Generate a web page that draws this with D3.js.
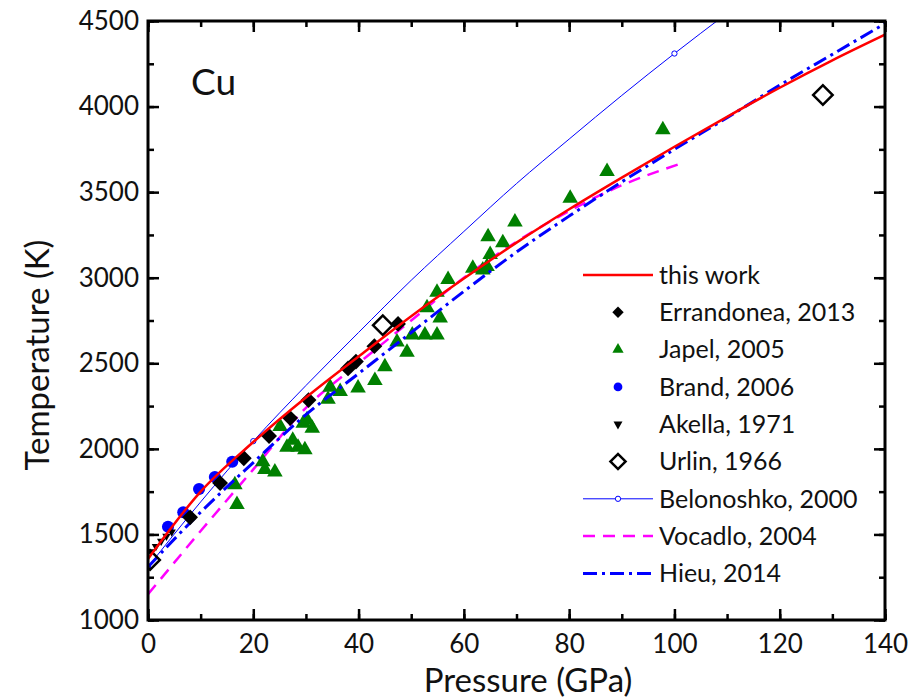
<!DOCTYPE html>
<html>
<head>
<meta charset="utf-8">
<script src="https://cdn.jsdelivr.net/npm/d3@7"></script>
<style>
  body { margin: 0; background: #fff; }
  svg { display: block; font-family: Lato, "Open Sans", sans-serif; }
</style>
</head>
<body>
<svg id="chart" width="918" height="698"></svg>
<script>
// pressure (GPa), temperature (K)
const thisWork = [[0,1357],[10,1750],[20,2040],[30,2300],[40,2540],[50,2775],[60,2995],[70,3205],[80,3400],[90,3585],[100,3765],[110,3940],[120,4110],[130,4270],[140,4420]];
const errandonea = [[8,1600],[13.7,1800],[18.2,1945],[23,2075],[27,2180],[30.5,2285],[38,2470],[39.5,2510],[43,2600],[47.5,2730]];
const japel = [[16.5,1790],[16.9,1675],[21.8,1925],[22.2,1880],[24.1,1865],[25.1,2130],[26.4,2010],[27.5,2050],[28.5,2010],[29.8,1995],[29.5,2150],[31.2,2120],[30.2,2170],[34.2,2290],[34.6,2360],[36.5,2335],[39.9,2355],[43.1,2400],[45,2480],[47.3,2625],[49.2,2565],[50.2,2665],[52.6,2665],[54.9,2665],[55.5,2765],[53,2825],[54.9,2915],[57,2990],[61.7,3055],[63.6,3045],[64.4,3065],[65,3135],[64.6,3240],[67.4,3205],[69.7,3325],[80.2,3465],[87.2,3620],[97.8,3865]];
const brand = [[3.8,1545],[6.7,1630],[9.7,1765],[12.7,1835],[16,1925]];
const akella = [[0.5,1400],[1.5,1430],[2.5,1460],[3.5,1490],[4.5,1515]];
const urlin = [[0.4,1350],[44.6,2722],[128.2,4068]];
const belonoshko = [[0,1310],[10,1690],[20,2045],[30,2370],[40,2680],[50,2985],[60,3270],[70,3550],[80,3810],[90,4065],[100,4310],[110,4545]];
const belonoshkoMarks = [[0,1310],[20,2045],[100,4310]];
const vocadlo = [[0,1150],[10,1520],[20,1880],[30,2240],[40,2500],[50,2750],[60,3000],[70,3210],[80,3390],[90,3540],[102,3675]];
const hieu = [[0,1310],[10,1630],[20,1920],[30,2200],[40,2440],[50,2680],[60,2920],[70,3150],[80,3360],[90,3560],[100,3750],[110,3935],[120,4125],[130,4305],[140,4485]];
const xTicks = [0,20,40,60,80,100,120,140];
const yTicks = [1000,1500,2000,2500,3000,3500,4000,4500];
const legendNames = ["this work","Errandonea, 2013","Japel, 2005","Brand, 2006","Akella, 1971","Urlin, 1966","Belonoshko, 2000","Vocadlo, 2004","Hieu, 2014"];

const svg = d3.select("#chart");
const margin = {left: 148, right: 885, top: 21, bottom: 620};
const x = d3.scaleLinear([0, 140], [margin.left, margin.right]);
const y = d3.scaleLinear([1000, 4500], [margin.bottom, margin.top]);

svg.append("clipPath").attr("id", "clip")
  .append("rect")
  .attr("x", margin.left).attr("y", margin.top)
  .attr("width", margin.right - margin.left).attr("height", margin.bottom - margin.top);

const plot = svg.append("g").attr("clip-path", "url(#clip)");
const line = d3.line().x(d => x(d[0])).y(d => y(d[1])).curve(d3.curveMonotoneX);

function drawLine(data, stroke, width, dash) {
  plot.append("path").datum(data)
    .attr("d", line)
    .attr("fill", "none")
    .attr("stroke", stroke)
    .attr("stroke-width", width)
    .attr("stroke-dasharray", dash || null);
}

// diamonds are squares turned 45 degrees, like the original markers
const sym = {
  square: s => d3.symbol(d3.symbolSquare, s)(),
  triangle: s => d3.symbol(d3.symbolTriangle, s)(),
  circle: s => d3.symbol(d3.symbolCircle, s)()
};

function drawPoints(data, path, attrs, rotate) {
  const g = plot.append("g");
  const p = g.selectAll("path").data(data).join("path")
    .attr("d", path)
    .attr("transform", d => `translate(${x(d[0])},${y(d[1])})` + (rotate ? ` rotate(${rotate})` : ""));
  for (const k in attrs) p.attr(k, attrs[k]);
}

// lines under the markers
drawLine(vocadlo, "#ff00ff", 2.5, "12,8");
drawLine(belonoshko, "#0000ff", 1, null);
drawPoints(belonoshkoMarks, sym.circle(22), {fill: "#fff", stroke: "#0000ff", "stroke-width": 1});

drawPoints(japel, sym.triangle(105), {fill: "#008000"});
drawPoints(brand, sym.circle(115), {fill: "#0000ff"});
drawLine(hieu, "#0000ff", 3, "14,5,3,5");
drawPoints(errandonea, sym.square(125), {fill: "#000"}, 45);
drawPoints(akella, sym.triangle(30), {fill: "#000"}, 180);
drawPoints(urlin, sym.square(190), {fill: "none", stroke: "#000", "stroke-width": 2.5}, 45);
drawLine(thisWork, "#ff0000", 2.5, null);

// axes with inward ticks on all four sides
function frameAxis(axisGen, transform) {
  const g = svg.append("g").attr("transform", transform);
  g.call(axisGen);
  g.selectAll(".tick line").attr("stroke", "#000").attr("stroke-width", 2.5);
  g.select(".domain").remove();
  return g;
}
const xMinor = d3.range(0, 141, 10);
const yMinor = d3.range(1000, 4501, 250);
const fmt = d3.format("d");

frameAxis(d3.axisBottom(x).tickValues(xMinor).tickSize(-6).tickFormat(""), `translate(0,${margin.bottom})`);
frameAxis(d3.axisBottom(x).tickValues(xMinor).tickSize(6).tickFormat(""), `translate(0,${margin.top})`);
frameAxis(d3.axisLeft(y).tickValues(yMinor).tickSize(-6).tickFormat(""), `translate(${margin.left},0)`);
frameAxis(d3.axisLeft(y).tickValues(yMinor).tickSize(6).tickFormat(""), `translate(${margin.right},0)`);

const xb = frameAxis(d3.axisBottom(x).tickValues(xTicks).tickSize(-11).tickPadding(15).tickFormat(fmt), `translate(0,${margin.bottom})`);
xb.selectAll(".tick text").attr("font-size", 26).attr("font-family", "Lato").attr("fill", "#111");
frameAxis(d3.axisBottom(x).tickValues(xTicks).tickSize(11).tickFormat(""), `translate(0,${margin.top})`);
const yl = frameAxis(d3.axisLeft(y).tickValues(yTicks).tickSize(-11).tickPadding(9).tickFormat(fmt), `translate(${margin.left},0)`);
yl.selectAll(".tick text").attr("font-size", 26).attr("font-family", "Lato").attr("fill", "#111");
frameAxis(d3.axisLeft(y).tickValues(yTicks).tickSize(11).tickFormat(""), `translate(${margin.right},0)`);

svg.append("rect")
  .attr("x", margin.left).attr("y", margin.top)
  .attr("width", margin.right - margin.left).attr("height", margin.bottom - margin.top)
  .attr("fill", "none").attr("stroke", "#000").attr("stroke-width", 3);

// titles
svg.append("text").attr("x", 528).attr("y", 692)
  .attr("text-anchor", "middle").attr("font-size", 33).attr("fill", "#111").text("Pressure (GPa)");
svg.append("text").attr("transform", "translate(49,355) rotate(-90)")
  .attr("text-anchor", "middle").attr("font-size", 33).attr("fill", "#111").text("Temperature (K)");
svg.append("text").attr("x", 191).attr("y", 95).attr("font-size", 37).attr("fill", "#111").text("Cu");

// legend
const leg = svg.append("g").attr("transform", "translate(583,275)");
const rowH = 37.3;
const rows = leg.selectAll("g").data(legendNames).join("g")
  .attr("transform", (d, i) => `translate(0,${i * rowH})`);
rows.append("text").attr("x", 76).attr("dy", "0.35em").attr("font-size", 25).attr("fill", "#111").text(d => d);

function legLine(i, stroke, width, dash) {
  leg.append("line").attr("x1", 0).attr("x2", 70).attr("y1", i * rowH).attr("y2", i * rowH)
    .attr("stroke", stroke).attr("stroke-width", width).attr("stroke-dasharray", dash || null);
}
function legSym(i, path, attrs, rotate) {
  const p = leg.append("path").attr("d", path)
    .attr("transform", `translate(35,${i * rowH})` + (rotate ? ` rotate(${rotate})` : ""));
  for (const k in attrs) p.attr(k, attrs[k]);
}
legLine(0, "#ff0000", 2.5);
legSym(1, sym.square(65), {fill: "#000"}, 45);
legSym(2, sym.triangle(55), {fill: "#008000"});
legSym(3, sym.circle(60), {fill: "#0000ff"});
legSym(4, sym.triangle(35), {fill: "#000"}, 180);
legSym(5, sym.square(115), {fill: "none", stroke: "#000", "stroke-width": 2.5}, 45);
legLine(6, "#0000ff", 1);
legSym(6, sym.circle(22), {fill: "#fff", stroke: "#0000ff", "stroke-width": 1});
legLine(7, "#ff00ff", 2.5, "12,8");
legLine(8, "#0000ff", 3, "14,5,3,5");
</script>
</body>
</html>
